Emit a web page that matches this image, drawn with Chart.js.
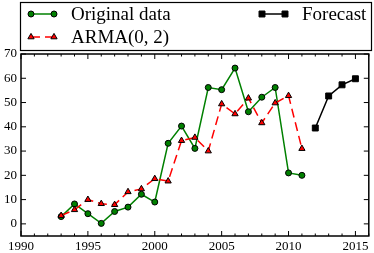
<!DOCTYPE html>
<html>
<head>
<meta charset="utf-8">
<script src="https://cdn.jsdelivr.net/npm/chart.js@4"></script>
<style>
  body { margin: 0; background: #fff; }
  canvas { display: block; }
</style>
</head>
<body>
<canvas id="chart" width="374" height="253"></canvas>
<script>
// --- data ---
const origYears = [1993, 1994, 1995, 1996, 1997, 1998, 1999, 2000, 2001, 2002, 2003, 2004, 2005, 2006, 2007, 2008, 2009, 2010, 2011];
const origValues = [3, 8.2, 4.2, 0.2, 5.1, 6.9, 12.2, 9, 33.2, 40.3, 31.1, 56.2, 55.3, 64.2, 46.2, 52.2, 56.2, 21, 20];
const armaValues = [3.4, 5.8, 10, 8.3, 7.9, 13.2, 14.4, 18.6, 17.6, 34.3, 35.6, 30, 49.4, 45.3, 51.8, 41.6, 49.8, 52.8, 31];
const forecastYears = [2012, 2013, 2014, 2015];
const forecastValues = [39.5, 52.7, 57.3, 59.8];

const seriesLabels = ['Original data', 'ARMA(0, 2)', 'Forecast'];

const toPoints = (xs, ys) => xs.map((x, i) => ({ x: x, y: ys[i] }));

Chart.defaults.font.family = "'Liberation Serif', 'DejaVu Serif', serif";
Chart.defaults.font.size = 13;
Chart.defaults.color = '#000';

// 標記繪製 (legend 用)
function drawMarker(ctx, style, r, x, y) {
    ctx.beginPath();
    if (style === 'circle') {
        ctx.arc(x, y, r, 0, Math.PI * 2);
    } else if (style === 'triangle') {
        ctx.moveTo(x, y - r);
        ctx.lineTo(x + r * Math.sin(Math.PI * 2 / 3), y + r * 0.5);
        ctx.lineTo(x - r * Math.sin(Math.PI * 2 / 3), y + r * 0.5);
        ctx.closePath();
    } else {
        const s = r * Math.SQRT1_2;
        ctx.rect(x - s, y - s, 2 * s, 2 * s);
    }
    ctx.fill();
    ctx.stroke();
}

// 兩欄圖例，先填滿第一欄
const legendBox = {
    id: 'legendBox',
    afterDraw(chart) {
        const ctx = chart.ctx;
        ctx.save();
        ctx.lineWidth = 1.2;
        ctx.strokeStyle = '#000';
        ctx.strokeRect(20.5, 2.5, 351, 48);
        const sets = chart.data.datasets;
        const rows = Math.ceil(sets.length / 2);
        sets.forEach((ds, i) => {
            const col = Math.floor(i / rows), row = i % rows;
            const x0 = col ? 262 : 31, x1 = x0 + 23, y = 14 + row * 23;
            ctx.strokeStyle = ds.borderColor;
            ctx.lineWidth = ds.borderWidth;
            ctx.setLineDash(ds.borderDash || []);
            ctx.beginPath(); ctx.moveTo(x0, y); ctx.lineTo(x1, y); ctx.stroke();
            ctx.setLineDash([]);
            ctx.fillStyle = ds.pointBackgroundColor;
            ctx.strokeStyle = ds.pointBorderColor;
            ctx.lineWidth = ds.pointBorderWidth;
            drawMarker(ctx, ds.pointStyle, ds.pointRadius, x0, y);
            drawMarker(ctx, ds.pointStyle, ds.pointRadius, x1, y);
            ctx.fillStyle = '#000';
            ctx.font = "19px 'Liberation Serif', serif";
            ctx.textBaseline = 'middle';
            ctx.fillText(ds.label, x0 + 40, y + 1);
        });
        ctx.restore();
    }
};

// 外框與朝內刻度
const frameTicks = {
    id: 'frameTicks',
    afterDraw(chart) {
        const { ctx, chartArea: a, scales } = chart;
        ctx.save();
        ctx.strokeStyle = '#000';
        ctx.lineWidth = 1;
        ctx.beginPath();
        scales.x.ticks.forEach(t => {
            const px = scales.x.getPixelForValue(t.value);
            const len = t.value % 5 === 0 ? 5 : 2.5;
            ctx.moveTo(px, a.bottom); ctx.lineTo(px, a.bottom - len);
            ctx.moveTo(px, a.top); ctx.lineTo(px, a.top + len);
        });
        scales.y.ticks.forEach(t => {
            const py = scales.y.getPixelForValue(t.value);
            ctx.moveTo(a.left, py); ctx.lineTo(a.left + 5, py);
            ctx.moveTo(a.right, py); ctx.lineTo(a.right - 5, py);
        });
        ctx.stroke();
        ctx.lineWidth = 1.5;
        ctx.strokeRect(a.left, a.top, a.right - a.left, a.bottom - a.top);
        ctx.restore();
    }
};

new Chart(document.getElementById('chart'), {
    type: 'line',
    data: {
        datasets: [
            {
                label: seriesLabels[0], data: toPoints(origYears, origValues),
                borderColor: '#008000', borderWidth: 1.5,
                pointStyle: 'circle', pointRadius: 3,
                pointBackgroundColor: '#008000', pointBorderColor: '#000', pointBorderWidth: 1,
                order: 3
            },
            {
                label: seriesLabels[1], data: toPoints(origYears, armaValues),
                borderColor: '#ff0000', borderWidth: 1.5, borderDash: [9, 5],
                pointStyle: 'triangle', pointRadius: 3.6,
                pointBackgroundColor: '#ff0000', pointBorderColor: '#000', pointBorderWidth: 1,
                order: 2
            },
            {
                label: seriesLabels[2], data: toPoints(forecastYears, forecastValues),
                borderColor: '#000', borderWidth: 1.5,
                pointStyle: 'rect', pointRadius: 4.2,
                pointBackgroundColor: '#000', pointBorderColor: '#000', pointBorderWidth: 1,
                order: 1
            }
        ]
    },
    options: {
        responsive: false,
        animation: false,
        layout: { padding: { top: 54, right: 2, left: 0, bottom: 0 } },
        plugins: { legend: { display: false }, tooltip: { enabled: false } },
        elements: { line: { tension: 0 } },
        scales: {
            x: {
                type: 'linear', min: 1990, max: 2016,
                grid: { display: false, drawTicks: false },
                border: { display: false },
                ticks: {
                    stepSize: 1, autoSkip: false, maxRotation: 0, padding: 3, includeBounds: false,
                    callback: v => (v % 5 === 0 ? String(v) : '')
                },
                afterFit: s => { s.height = 17; }
            },
            y: {
                min: -5, max: 70,
                grid: { display: false, drawTicks: false },
                border: { display: false },
                ticks: { stepSize: 10, padding: 4, includeBounds: false },
                afterFit: s => { s.width = 21; }
            }
        }
    },
    plugins: [legendBox, frameTicks]
});
</script>
</body>
</html>
